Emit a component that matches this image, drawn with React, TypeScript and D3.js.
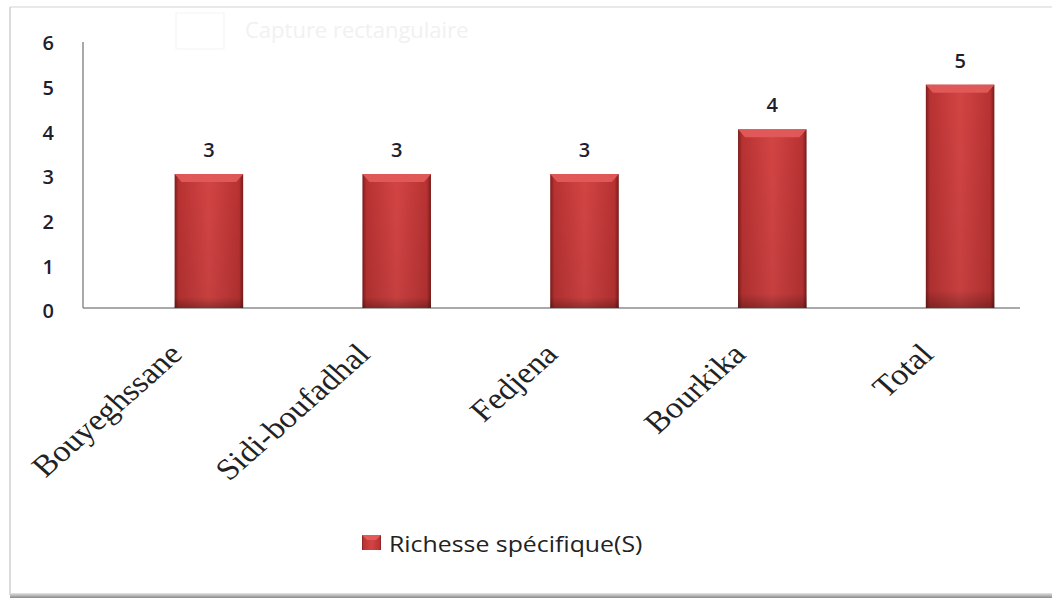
import React from "react";
import * as d3 from "d3";

const categories = ["Bouyeghssane", "Sidi-boufadhal", "Fedjena", "Bourkika", "Total"];
const values = [3, 3, 3, 4, 5];
const yTicks = [0, 1, 2, 3, 4, 5, 6];
const seriesName = "Richesse spécifique(S)";

export default function App() {
  const W = 1052, H = 599;
  const left = 83, right = 1020, top = 40, bottom = 308;
  const x = d3.scaleBand<string>().domain(categories).range([115, 1054]).paddingInner(0.635).paddingOuter(0.3175);
  const y = d3.scaleLinear().domain([0, 6]).range([bottom, top]);
  const bw = x.bandwidth();

  return (
    <svg width={W} height={H} style={{ position: "absolute", left: 0, top: 0, background: "#fff" }}>
      <defs>
        <linearGradient id="barH" x1="0" x2="1" y1="0" y2="0">
          <stop offset="0" stopColor="#7e1d1d" />
          <stop offset="0.06" stopColor="#b83232" />
          <stop offset="0.5" stopColor="#d34444" />
          <stop offset="0.94" stopColor="#b83232" />
          <stop offset="1" stopColor="#7a1b1b" />
        </linearGradient>
        <linearGradient id="barV" x1="0" x2="0" y1="0" y2="1">
          <stop offset="0" stopColor="#000" stopOpacity="0" />
          <stop offset="0.92" stopColor="#000" stopOpacity="0.06" />
          <stop offset="1" stopColor="#000" stopOpacity="0.3" />
        </linearGradient>
        <linearGradient id="frameB" x1="0" x2="0" y1="0" y2="1">
          <stop offset="0" stopColor="#e6e6e6" />
          <stop offset="1" stopColor="#8a8a8a" />
        </linearGradient>
      </defs>
      {/* frame */}
      <line x1={10} x2={W} y1={7} y2={7} stroke="#e2e2e2" strokeWidth={1.5} />
      <line x1={10} x2={10} y1={7} y2={595} stroke="#cfcfcf" strokeWidth={1.5} />
      <rect x={10} y={593} width={W - 10} height={5} fill="url(#frameB)" />
      {/* faint watermark */}
      <rect x={176} y={13} width={48} height={36} fill="none" stroke="#f3f3f3" />
      <text x={245} y={38} fontFamily="Open Sans, sans-serif" fontSize={22} fill="#f1f1f1">Capture rectangulaire</text>

      {/* axes */}
      <line x1={left} x2={left} y1={42} y2={bottom} stroke="#8c8c8c" strokeWidth={1.5} />
      <line x1={left} x2={right} y1={bottom} y2={bottom} stroke="#8c8c8c" strokeWidth={1.5} />
      {yTicks.map((t) => (
        <text key={t} x={54} y={y(t) + 3} dy="0.36em" textAnchor="end" fontFamily="Open Sans, sans-serif" fontWeight={600} fontSize={20} fill="#1e1e2e">{t}</text>
      ))}

      {/* bars */}
      {categories.map((c, i) => {
        const bx = x(c)!;
        const by = y(values[i]);
        const bh = bottom - by;
        return (
          <g key={c}>
            <rect x={bx} y={by} width={bw} height={bh} fill="url(#barH)" />
            <rect x={bx} y={by} width={bw} height={bh} fill="url(#barV)" />
            <polygon points={`${bx},${by} ${bx + bw},${by} ${bx + bw - 7},${by + 8} ${bx + 7},${by + 8}`} fill="#e25a5a" opacity={0.95} />
            <text x={bx + bw / 2} y={by - 17} textAnchor="middle" fontFamily="Open Sans, sans-serif" fontWeight={600} fontSize={20} fill="#1e1e2e">{values[i]}</text>
          </g>
        );
      })}

      {/* category labels */}
      {categories.map((c) => {
        const cx = x(c)! + bw / 2;
        return (
          <text key={c} transform={`translate(${cx - 25},${356}) scale(1.13,1) rotate(-45)`} textAnchor="end" fontFamily="Liberation Serif, Times New Roman, serif" fontSize={30} fill="#222">{c}</text>
        );
      })}

      {/* legend */}
      <rect x={362} y={535} width={19} height={15} fill="url(#barH)" />
      <polygon points="362,535 381,535 376,540 367,540" fill="#e25a5a" />
      <text transform="translate(389,552) scale(1.13,1)" fontFamily="Open Sans, sans-serif" fontSize={22} fill="#222">{seriesName}</text>
    </svg>
  );
}
